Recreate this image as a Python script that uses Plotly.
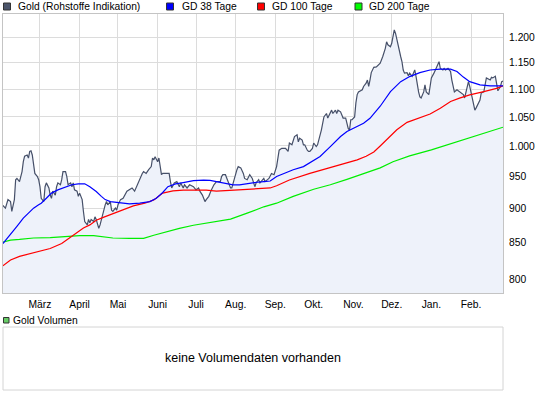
import plotly.graph_objects as go

# ---------------- data ----------------
gold_dates = [
 "2009-01-31","2009-02-02","2009-02-04","2009-02-06","2009-02-07","2009-02-09","2009-02-10","2009-02-11","2009-02-13","2009-02-15",
 "2009-02-16","2009-02-17","2009-02-19","2009-02-20","2009-02-21","2009-02-22","2009-02-23","2009-02-24","2009-02-25","2009-02-27",
 "2009-02-28","2009-03-01","2009-03-02","2009-03-04","2009-03-05","2009-03-06","2009-03-08","2009-03-09","2009-03-10","2009-03-11",
 "2009-03-13","2009-03-14","2009-03-15","2009-03-17","2009-03-18","2009-03-19","2009-03-21","2009-03-22","2009-03-23","2009-03-25",
 "2009-03-26","2009-03-27","2009-03-28","2009-03-30","2009-03-31","2009-04-01","2009-04-03","2009-04-04","2009-04-05","2009-04-07",
 "2009-04-08","2009-04-09","2009-04-10","2009-04-12","2009-04-13","2009-04-14","2009-04-16","2009-04-17","2009-04-18","2009-04-20",
 "2009-04-21","2009-04-22","2009-04-23","2009-04-25","2009-04-26","2009-04-27","2009-04-29","2009-04-30","2009-05-01","2009-05-03",
 "2009-05-05","2009-05-08","2009-05-10","2009-05-12","2009-05-14","2009-05-16","2009-05-17","2009-05-18","2009-05-20","2009-05-21",
 "2009-05-23","2009-05-25","2009-05-27","2009-05-28","2009-05-29","2009-05-30","2009-06-01","2009-06-02","2009-06-03","2009-06-04",
 "2009-06-05","2009-06-08","2009-06-10","2009-06-11","2009-06-12","2009-06-14","2009-06-16","2009-06-18","2009-06-19","2009-06-21",
 "2009-06-22","2009-06-24","2009-06-26","2009-06-29","2009-07-01","2009-07-03","2009-07-04","2009-07-06","2009-07-08","2009-07-09",
 "2009-07-11","2009-07-13","2009-07-15","2009-07-17","2009-07-20","2009-07-21","2009-07-22","2009-07-24","2009-07-25","2009-07-26",
 "2009-07-28","2009-07-29","2009-07-30","2009-08-01","2009-08-02","2009-08-03","2009-08-05","2009-08-07","2009-08-08","2009-08-10",
 "2009-08-11","2009-08-12","2009-08-14","2009-08-15","2009-08-16","2009-08-17","2009-08-19","2009-08-20","2009-08-21","2009-08-23",
 "2009-08-24","2009-08-27","2009-08-29","2009-08-31","2009-09-02","2009-09-03","2009-09-04","2009-09-06","2009-09-09","2009-09-11",
 "2009-09-12","2009-09-14","2009-09-15","2009-09-16","2009-09-18","2009-09-19","2009-09-20","2009-09-22","2009-09-23","2009-09-24",
 "2009-09-26","2009-09-27","2009-09-28","2009-09-30","2009-10-01","2009-10-03","2009-10-04","2009-10-05","2009-10-07","2009-10-09",
 "2009-10-10","2009-10-11","2009-10-12","2009-10-14","2009-10-15","2009-10-16","2009-10-18","2009-10-19","2009-10-20","2009-10-22",
 "2009-10-24","2009-10-26","2009-10-27","2009-10-28","2009-10-29","2009-10-30","2009-10-31","2009-11-02","2009-11-03","2009-11-04",
 "2009-11-05","2009-11-08","2009-11-09","2009-11-11","2009-11-12","2009-11-13","2009-11-14","2009-11-15","2009-11-17","2009-11-19",
 "2009-11-22","2009-11-23","2009-11-24","2009-11-26","2009-11-27","2009-11-28","2009-11-30","2009-12-01","2009-12-02","2009-12-03",
 "2009-12-04","2009-12-05","2009-12-07","2009-12-08","2009-12-09","2009-12-10","2009-12-11","2009-12-13","2009-12-14","2009-12-15",
 "2009-12-17","2009-12-18","2009-12-19","2009-12-20","2009-12-21","2009-12-22","2009-12-23","2009-12-24","2009-12-26","2009-12-27",
 "2009-12-28","2009-12-30","2009-12-31","2010-01-01","2010-01-03","2010-01-04","2010-01-05","2010-01-06","2010-01-07","2010-01-08",
 "2010-01-10","2010-01-11","2010-01-12","2010-01-14","2010-01-16","2010-01-17","2010-01-18","2010-01-19","2010-01-21","2010-01-23",
 "2010-01-26","2010-01-27","2010-01-29","2010-01-30","2010-01-31","2010-02-02","2010-02-03","2010-02-04","2010-02-05","2010-02-07",
 "2010-02-08","2010-02-09","2010-02-11","2010-02-13","2010-02-16","2010-02-17","2010-02-18","2010-02-20","2010-02-21","2010-02-22",
 "2010-02-24","2010-02-25","2010-02-26",
]
gold_values = [
 905,901,914,911,896,914,945,947,942,958,
 974,983,985,980,991,992,985,966,955,950,
 945,934,916,911,934,940,932,921,916,927,
 921,934,940,937,945,958,958,950,937,940,
 934,940,929,927,919,924,914,896,881,876,
 884,879,884,881,888,884,871,876,884,896,
 906,911,906,911,898,896,901,898,906,914,
 916,927,929,932,927,937,942,945,955,958,
 955,961,966,980,977,982,974,980,966,953,
 955,955,955,942,932,940,942,934,940,932,
 937,932,937,934,929,932,927,921,911,914,
 919,929,937,942,942,950,953,953,947,942,
 932,932,940,953,961,966,964,955,947,945,
 950,953,947,942,934,940,945,940,942,947,
 942,947,955,953,966,985,993,996,996,991,
 1005,1002,1010,1016,1019,1007,1013,1010,1002,1002,
 993,991,991,996,1005,999,1002,1010,1027,1050,
 1053,1056,1048,1059,1062,1056,1062,1056,1062,1059,
 1048,1048,1036,1030,1027,1045,1045,1050,1075,1090,
 1095,1099,1105,1111,1117,1105,1117,1131,1141,1142,
 1149,1155,1162,1178,1191,1185,1181,1188,1205,1215,
 1208,1195,1172,1162,1152,1136,1130,1131,1125,1130,
 1124,1130,1136,1124,1105,1095,1086,1084,1095,1108,
 1095,1090,1105,1121,1130,1136,1139,1146,1152,1139,
 1136,1139,1136,1139,1133,1117,1102,1095,1099,1095,
 1090,1084,1105,1114,1105,1080,1067,1062,1066,1075,
 1080,1093,1095,1121,1117,1122,1121,1124,1111,1097,
 1105,1114,1115,
]

gd38_dates = [
 "2009-01-31","2009-02-06","2009-02-11","2009-02-16","2009-02-21","2009-02-24","2009-02-28","2009-03-02","2009-03-06","2009-03-10",
 "2009-03-15","2009-03-21","2009-03-26","2009-03-31","2009-04-05","2009-04-09","2009-04-14","2009-04-18","2009-04-21","2009-04-25",
 "2009-04-30","2009-05-05","2009-05-10","2009-05-18","2009-05-26","2009-05-31","2009-06-05","2009-06-09","2009-06-15","2009-06-21",
 "2009-06-29","2009-07-07","2009-07-12","2009-07-17","2009-07-25","2009-07-30","2009-08-04","2009-08-11","2009-08-18","2009-08-23",
 "2009-08-28","2009-09-02","2009-09-07","2009-09-15","2009-09-23","2009-10-01","2009-10-06","2009-10-14","2009-10-22","2009-10-27",
 "2009-11-01","2009-11-09","2009-11-14","2009-11-22","2009-11-30","2009-12-08","2009-12-15","2009-12-23","2009-12-31","2010-01-08",
 "2010-01-16","2010-01-21","2010-01-26","2010-01-31","2010-02-08","2010-02-16","2010-02-26",
]
gd38_values = [
 849,862,874,886,896,901,906,908.5,916,924,
 929,934,937,938.5,938.5,934,926.5,919,914,911,
 909.5,908.5,907.5,908.5,911,916,925,934,938.5,940.5,
 943.5,944.5,944,942,939.5,937,937,939.5,941,942,
 943,950,954,961,966,977,982.5,999,1016,1024.5,
 1030,1039,1047.5,1069,1095.5,1114,1123.5,1131,1136,1137.5,
 1137.5,1133,1122.5,1114,1108,1106,1106,
]

gd100_dates = [
 "2009-01-31","2009-02-06","2009-02-13","2009-02-21","2009-03-01","2009-03-09","2009-03-18","2009-03-25","2009-03-30","2009-04-04",
 "2009-04-09","2009-04-14","2009-04-20","2009-04-25","2009-04-30","2009-05-05","2009-05-13","2009-05-22","2009-05-29","2009-06-05",
 "2009-06-13","2009-06-21","2009-06-29","2009-07-09","2009-07-17","2009-07-25","2009-08-02","2009-08-10","2009-08-17","2009-08-28",
 "2009-09-02","2009-09-12","2009-09-28","2009-10-11","2009-10-24","2009-11-04","2009-11-11","2009-11-17","2009-11-22","2009-11-28",
 "2009-12-05","2009-12-13","2009-12-23","2009-12-31","2010-01-08","2010-01-16","2010-01-23","2010-01-31","2010-02-11","2010-02-21",
 "2010-02-26",
]
gd100_values = [
 818,826,831,834.5,839,842,849,858,864,871.5,
 876,883,887.5,891,895,899,904.5,908.5,913.5,924,
 927.5,928.5,929,928.5,927,928,929,930.5,930.5,932,
 935.5,944.5,955,962.5,970,977,983,990,1000,1013,
 1027.5,1040.5,1049,1055,1065.5,1077.5,1083.5,1089.5,1095.5,1101.5,
 1106,
]

gd200_dates = [
 "2009-01-31","2009-02-06","2009-02-13","2009-02-24","2009-03-09","2009-03-22","2009-04-01","2009-04-12","2009-04-20","2009-04-27",
 "2009-05-10","2009-05-21","2009-05-29","2009-06-08","2009-06-18","2009-06-29","2009-07-15","2009-07-28","2009-08-10","2009-08-23",
 "2009-09-02","2009-09-15","2009-10-01","2009-10-14","2009-10-27","2009-11-11","2009-11-22","2009-12-02","2009-12-15","2010-01-01",
 "2010-01-31","2010-02-26",
]
gd200_values = [
 851,854,855,857,857.5,859.5,860.5,860.5,859,857,
 856.5,856.5,861,866.5,871,875.5,881,884.5,893.5,903,
 908.5,919,930,937,945.5,956.5,964,974,983.5,993.5,
 1013.5,1032,
]

month_ticks = ["2009-03-01","2009-04-01","2009-05-01","2009-06-01","2009-07-01","2009-08-01",
               "2009-09-01","2009-10-01","2009-11-01","2009-12-01","2010-01-01","2010-02-01"]
month_labels = ["März","April","Mai","Juni","Juli","Aug.","Sep.","Okt.","Nov.","Dez.","Jan.","Feb."]
price_ticks = [800, 850, 900, 950, 1000, 1050, 1100, 1150, 1200]
price_labels = ["800", "850", "900", "950", "1.000", "1.050", "1.100", "1.150", "1.200"]

legend_names = ["Gold (Rohstoffe Indikation)", "GD 38 Tage", "GD 100 Tage", "GD 200 Tage"]
volume_name = "Gold Volumen"
volume_note = "keine Volumendaten vorhanden"

# ---------------- styling ----------------
FONT = "Liberation Sans, Arial, sans-serif"
GOLD_LINE = "#465069"
GOLD_FILL = "#eef2fa"
C38, C100, C200 = "#0000ff", "#ff0000", "#00ee00"
GRID = "#dcdcdc"
BORDER = "#c4c4c4"

fig = go.Figure()
fig.add_trace(go.Scatter(x=gold_dates, y=gold_values, mode="lines", fill="tozeroy",
                         fillcolor=GOLD_FILL, line=dict(color=GOLD_LINE, width=1.2),
                         name=legend_names[0]))
fig.add_trace(go.Scatter(x=gd200_dates, y=gd200_values, mode="lines",
                         line=dict(color=C200, width=1.2), name=legend_names[3]))
fig.add_trace(go.Scatter(x=gd100_dates, y=gd100_values, mode="lines",
                         line=dict(color=C100, width=1.2), name=legend_names[2]))
fig.add_trace(go.Scatter(x=gd38_dates, y=gd38_values, mode="lines",
                         line=dict(color=C38, width=1.2), name=legend_names[1]))

H_TOTAL = 395 - 14 - 5
main_bottom = (390 - 293.3) / H_TOTAL
vol_top = (390 - 327) / H_TOTAL

fig.update_layout(
    width=545, height=395,
    margin=dict(l=3, r=42, t=14, b=5),
    paper_bgcolor="white", plot_bgcolor="white",
    showlegend=False,
    font=dict(family=FONT, size=10.3, color="#000000"),
    xaxis=dict(type="date", range=["2009-01-31 02:40", "2010-02-26 00:00"],
               tickvals=month_ticks, ticktext=month_labels, ticks="",
               showgrid=True, gridcolor=GRID, gridwidth=1,
               showline=True, linecolor=BORDER, linewidth=1, mirror=True,
               zeroline=False, ticklabelstandoff=1,
               tickfont=dict(family=FONT, size=10.3, color="#000")),
    yaxis=dict(type="log", range=[2.89268, 3.09616], domain=[main_bottom, 1.0],
               side="right", tickvals=price_ticks, ticktext=price_labels, ticks="",
               showgrid=True, gridcolor=GRID, gridwidth=1,
               showline=True, linecolor=BORDER, linewidth=1, mirror=True,
               zeroline=False, ticklabelstandoff=3,
               tickfont=dict(family=FONT, size=10.3, color="#000")),
)

shapes = []
annotations = []

# top legend
legend_items = [
    (legend_names[0], "#4b556b", 3.5, 15.5),
    (legend_names[1], C38, 166.5, 179.5),
    (legend_names[2], C100, 257.5, 270.0),
    (legend_names[3], "#00ff00", 355.0, 367.0),
]
def px2paper_x(px):
    return (px - 3) / 500.0
def px2paper_y(py):
    return (390 - py) / H_TOTAL

for name, col, sx, tx in legend_items:
    shapes.append(dict(type="rect", xref="paper", yref="paper",
                       x0=px2paper_x(sx), x1=px2paper_x(sx + 7),
                       y0=px2paper_y(10), y1=px2paper_y(3),
                       fillcolor=col, line=dict(color="#333333", width=1)))
    annotations.append(dict(text=name, xref="paper", yref="paper",
                            x=px2paper_x(tx), y=px2paper_y(6.5),
                            xanchor="left", yanchor="middle", showarrow=False,
                            font=dict(family=FONT, size=10.3, color="#000")))

# volume legend
shapes.append(dict(type="rect", xref="paper", yref="paper",
                   x0=px2paper_x(3.5), x1=px2paper_x(9),
                   y0=px2paper_y(323), y1=px2paper_y(317.5),
                   fillcolor="#66cc66", line=dict(color="#333333", width=1)))
annotations.append(dict(text=volume_name, xref="paper", yref="paper",
                        x=px2paper_x(10.5), y=px2paper_y(320),
                        xanchor="left", yanchor="middle", showarrow=False,
                        font=dict(family=FONT, size=10.3, color="#000")))

# volume panel box
shapes.append(dict(type="rect", xref="paper", yref="paper",
                   x0=0, x1=1, y0=0, y1=vol_top,
                   fillcolor="rgba(0,0,0,0)", line=dict(color="#d4d4d4", width=1)))
annotations.append(dict(text=volume_note, xref="paper", yref="paper",
                        x=0.5, y=px2paper_y(358), xanchor="center", yanchor="middle",
                        showarrow=False,
                        font=dict(family=FONT, size=12.5, color="#000")))

fig.update_layout(shapes=shapes, annotations=annotations)
fig.write_html("out.html",
               config={"displayModeBar": False},
               post_script="document.body.style.margin='0';document.body.style.overflow='hidden';")
